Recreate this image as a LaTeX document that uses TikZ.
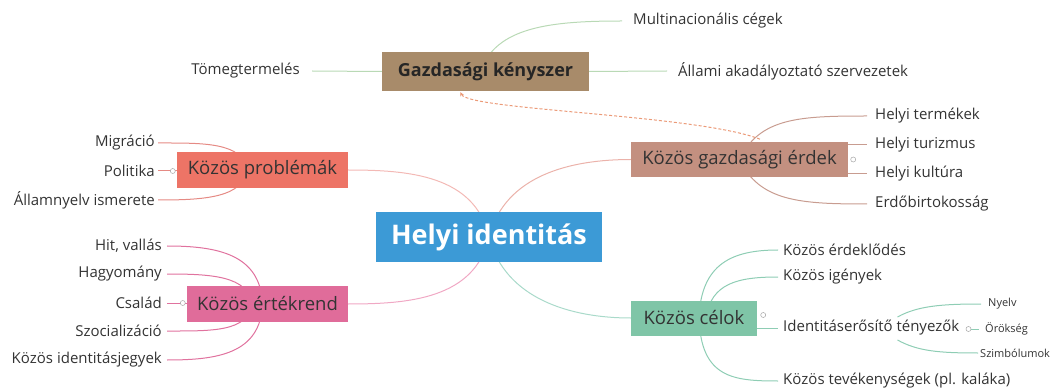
\documentclass[tikz,border=0pt]{standalone}
\usepackage{fontspec}
\setmainfont{Open Sans}
\usetikzlibrary{backgrounds,calc,arrows.meta}
\definecolor{txt}{HTML}{333333}
\definecolor{cblue}{HTML}{3C9AD6}
\definecolor{cgk}{HTML}{A88B6A}
\definecolor{cge}{HTML}{C39080}
\definecolor{ckp}{HTML}{ED7466}
\definecolor{cke}{HTML}{E06C9A}
\definecolor{ckc}{HTML}{7FC5A7}
\definecolor{lgk}{HTML}{B9D9B5}
\definecolor{lge}{HTML}{C89C90}
\definecolor{lkp}{HTML}{E58A84}
\definecolor{lke}{HTML}{E0729E}
\definecolor{lkc}{HTML}{8ECDB4}
\definecolor{mkp}{HTML}{F3B9B5}
\definecolor{mke}{HTML}{F0A8C4}
\definecolor{mge}{HTML}{EBB2AA}
\definecolor{mkc}{HTML}{A9DACA}
\definecolor{cdash}{HTML}{EB9A78}
\begin{document}
\begin{tikzpicture}[x=1pt,y=-1pt,
  topic/.style={inner sep=0, text=txt, font=\fontsize{18.5}{22}\selectfont},
  leaf/.style={inner sep=0, text=txt, font=\fontsize{15}{17}\selectfont},
  smallleaf/.style={inner sep=0, text=txt, font=\fontsize{11}{13}\selectfont},
  conn/.style={line width=1pt},
  knob/.style={draw=gray!70, fill=white, line width=0.5pt, circle, inner sep=0, minimum size=5pt}
]
\useasboundingbox (0,0) rectangle (1055,390);

% central and main topics
\node[topic, fill=cblue, minimum width=226, minimum height=50, text=white,
      font=\bfseries\fontsize{27}{30}\selectfont] (hi) at (489,237) {Helyi identitás};
\node[topic, fill=cgk, minimum width=207, minimum height=39,
      font=\bfseries\fontsize{18}{21}\selectfont, text=black!85] (gk) at (485.5,71.5) {Gazdasági kényszer};
\node[topic, fill=cge, minimum width=217, minimum height=35] (ge) at (739.5,159.5) {Közös gazdasági érdek};
\node[topic, fill=ckp, minimum width=171, minimum height=36] (kp) at (262.5,170) {Közös problémák};
\node[topic, fill=cke, minimum width=161, minimum height=36] (ke) at (267.5,304) {Közös értékrend};
\node[topic, fill=ckc, minimum width=126, minimum height=35] (kc) at (694,318) {Közös célok};

% leaves
\node[leaf, anchor=east] (tom) at (300,71) {Tömegtermelés};
\node[leaf, anchor=west] (mul) at (633,21) {Multinacionális cégek};
\node[leaf, anchor=west] (all) at (678,71) {Állami akadályoztató szervezetek};

\node[leaf, anchor=west] (hte) at (875,116) {Helyi termékek};
\node[leaf, anchor=west] (htu) at (875,145) {Helyi turizmus};
\node[leaf, anchor=west] (hku) at (875,174) {Helyi kultúra};
\node[leaf, anchor=west] (erd) at (875,204) {Erdőbirtokosság};

\node[leaf, anchor=east] (mig) at (155,143) {Migráció};
\node[leaf, anchor=east] (pol) at (155,171) {Politika};
\node[leaf, anchor=east] (aim) at (155,200) {Államnyelv ismerete};

\node[leaf, anchor=east] (hit) at (162,246) {Hit, vallás};
\node[leaf, anchor=east] (hag) at (162,274) {Hagyomány};
\node[leaf, anchor=east] (csa) at (162,303) {Család};
\node[leaf, anchor=east] (szo) at (162,331) {Szocializáció};
\node[leaf, anchor=east] (kid) at (162,360) {Közös identitásjegyek};

\node[leaf, anchor=west] (kerd) at (783,250) {Közös érdeklődés};
\node[leaf, anchor=west] (kig) at (783,277) {Közös igények};
\node[leaf, anchor=west] (ide) at (783,328) {Identitáserősítő tényezők};
\node[leaf, anchor=west] (tev) at (783,381) {Közös tevékenységek (pl. kaláka)};

\node[smallleaf, anchor=west] (nye) at (988,304) {Nyelv};
\node[smallleaf, anchor=west] (oro) at (985,329) {Örökség};
\node[smallleaf, anchor=west] (szi) at (980,353) {Szimbólumok};

% knobs
\node[knob] (k1) at ($(ge.east)+(5,0)$) {};
\node[knob] (k2) at ($(kp.west)+(-4,1)$) {};
\node[knob] (k3) at ($(ke.west)+(-4,-1)$) {};
\node[knob] (k4) at ($(kc.east)+(6,-3)$) {};
\node[knob] (k5) at ($(ide.east)+(9,1)$) {};

\begin{scope}[on background layer]
% central connectors
\draw[conn, mkp] (hi.center) .. controls +(-14,-62) and +(60,0) .. (kp.east);
\draw[conn, mke] (hi.center) .. controls +(-14,62) and +(60,0) .. (ke.east);
\draw[conn, mge] (hi.center) .. controls +(16,-62) and +(-60,0) .. (ge.west);
\draw[conn, mkc] (hi.center) .. controls +(16,62) and +(-60,0) .. (kc.west);

% Gazdasági kényszer
\draw[conn, lgk] (gk.west) -- ($(tom.east)+(12,0)$);
\draw[conn, lgk] ($(gk.center)+(-5,0)$) .. controls +(15,-45) and +(-70,0) .. ($(mul.west)+(-11,0)$);
\draw[conn, lgk] (gk.east) -- ($(all.west)+(-11,0)$);

% Közös gazdasági érdek
\draw[conn, lge] (ge.center) .. controls +(20,-42) and +(-67,0) .. ($(hte.west)+(-8,0)$);
\draw[conn, lge] (ge.east |- htu.west) -- ($(htu.west)+(-8,0)$);
\draw[conn, lge] (ge.east |- hku.west) -- ($(hku.west)+(-8,0)$);
\draw[conn, lge] (ge.center) .. controls +(20,42) and +(-67,0) .. ($(erd.west)+(-8,0)$);

% Közös problémák
\draw[conn, lkp] ($(kp.center)+(-15,0)$) .. controls +(-5,-28) and +(45,0) .. ($(mig.east)+(3,0)$);
\draw[conn, lkp] ($(pol.east)+(3,0)$) -- (kp.west |- pol.east);
\draw[conn, lkp] ($(kp.center)+(-15,0)$) .. controls +(-5,28) and +(45,0) .. ($(aim.east)+(3,0)$);

% Közös értékrend
\draw[conn, lke] ($(ke.center)+(-5,0)$) .. controls +(-2,-50) and +(50,0) .. ($(hit.east)+(5,0)$);
\draw[conn, lke] ($(ke.center)+(-15,0)$) .. controls +(-5,-28) and +(45,0) .. ($(hag.east)+(5,0)$);
\draw[conn, lke] ($(csa.east)+(5,0)$) -- (ke.west |- csa.east);
\draw[conn, lke] ($(ke.center)+(-15,0)$) .. controls +(-5,28) and +(45,0) .. ($(szo.east)+(5,0)$);
\draw[conn, lke] ($(ke.center)+(-5,0)$) .. controls +(-2,50) and +(50,0) .. ($(kid.east)+(5,0)$);

% Közös célok
\draw[conn, lkc] ($(kc.center)+(5,0)$) .. controls +(2,-55) and +(-45,0) .. ($(kerd.west)+(-5,0)$);
\draw[conn, lkc] ($(kc.center)+(12,0)$) .. controls +(5,-35) and +(-40,0) .. ($(kig.west)+(-5,0)$);
\draw[conn, lkc] (kc.east |- ide.west) -- ($(ide.west)+(-5,0)$);
\draw[conn, lkc] ($(kc.center)+(5,0)$) .. controls +(2,60) and +(-45,0) .. ($(tev.west)+(-5,0)$);

% Identitáserősítő tényezők
\draw[conn, lkc] ($(ide.east)+(-62,-11)$) .. controls +(20,-11) and +(-40,0) .. ($(nye.west)+(-7,0)$);
\draw[conn, lkc] (k5.east) -- ($(oro.west)+(-6,0)$);
\draw[conn, lkc] ($(ide.east)+(-62,12)$) .. controls +(20,11) and +(-40,0) .. ($(szi.west)+(-2,0)$);
\end{scope}

% relationship
\draw[conn, cdash, dashed, dash pattern=on 3pt off 2pt, {Stealth[length=4pt,width=4pt]}-]
  ($(gk.south)+(-25,1)$) .. controls +(8,18) and +(-60,-25) .. ($(ge.north)+(22,-2)$);
\end{tikzpicture}
\end{document}
